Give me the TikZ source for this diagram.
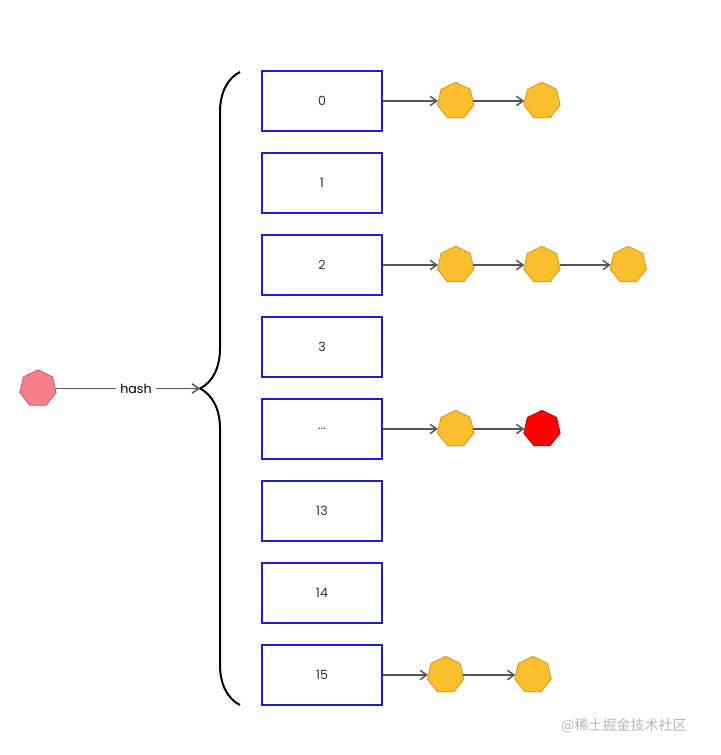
\documentclass[tikz,border=0pt]{standalone}
\usepackage{fontspec}
\setmainfont{Poppins}
\newfontfamily\cjkfont{Noto Sans CJK SC}
\usepackage{tikz}
\usetikzlibrary{arrows.meta,positioning,shapes.geometric,decorations.pathreplacing}
\definecolor{bucketblue}{RGB}{34,30,196}
\definecolor{entryfill}{RGB}{251,190,45}
\definecolor{entrydraw}{RGB}{214,150,30}
\definecolor{keyfill}{RGB}{246,128,138}
\definecolor{keydraw}{RGB}{200,90,100}
\definecolor{linkgray}{RGB}{85,85,85}

\begin{document}
\begin{tikzpicture}[
  x=0.75pt, y=-0.75pt,
  node distance=15pt and 38.25pt,
  bucket/.style={rectangle, draw=bucketblue, line width=1.5pt, fill=white, minimum width=90pt, minimum height=45pt, text=black!80, font=\fontsize{9.5}{11}\selectfont},
  entry/.style={regular polygon, regular polygon sides=7, minimum size=28pt, inner sep=0pt, fill=entryfill, draw=entrydraw, line width=0.6pt},
  newentry/.style={entry, fill=red, draw=red!70!black},
  keynode/.style={entry, fill=keyfill, draw=keydraw},
  link/.style={-{Straight Barb[length=5pt,width=7pt]}, draw=linkgray, line width=1.1pt}
]
\fill[white] (0,0) rectangle (720,755);
\useasboundingbox (0,0) rectangle (720,755);

% buckets
\node[bucket] (b0) at (322,101) {0};
\node[bucket, below=of b0] (b1) {1};
\node[bucket, below=of b1] (b2) {2};
\node[bucket, below=of b2] (b3) {3};
\node[bucket, below=of b3] (b4) {...};
\node[bucket, below=of b4] (b13) {13};
\node[bucket, below=of b13] (b14) {14};
\node[bucket, below=of b14] (b15) {15};

% chains
\node[entry, right=41.25pt of b0] (e0a) {};
\node[entry, right=of e0a] (e0b) {};
\node[entry, right=41.25pt of b2] (e2a) {};
\node[entry, right=of e2a] (e2b) {};
\node[entry, right=of e2b] (e2c) {};
\node[entry, right=41.25pt of b4] (e4a) {};
\node[newentry, right=of e4a] (e4b) {};
\node[entry, right=33.75pt of b15] (e15a) {};
\node[entry, right=39pt of e15a] (e15b) {};

\draw[link] (b0) -- (e0a);
\draw[link] (e0a) -- (e0b);
\draw[link] (b2) -- (e2a);
\draw[link] (e2a) -- (e2b);
\draw[link] (e2b) -- (e2c);
\draw[link] (b4) -- (e4a);
\draw[link] (e4a) -- (e4b);
\draw[link] (b15) -- (e15a);
\draw[link] (e15a) -- (e15b);

% brace over the table
\draw[line width=1.5pt, decorate, decoration={brace, amplitude=30pt}] (240,705) -- (240,72);
\coordinate (tip) at (200,388.5);

% key and hash
\node[keynode] (key) at (38,388.5) {};
\node[font=\fontsize{9.5}{11}\selectfont] (hash) at (136,388.5) {hash};
\draw[draw=linkgray, line width=1.1pt] (key) -- (hash);
\draw[link] (hash) -- (tip);

% watermark
\node[text=black!28, font=\cjkfont\fontsize{10.5}{12}\selectfont] (mark) at (624,726) {@稀土掘金技术社区};
\end{tikzpicture}
\end{document}
